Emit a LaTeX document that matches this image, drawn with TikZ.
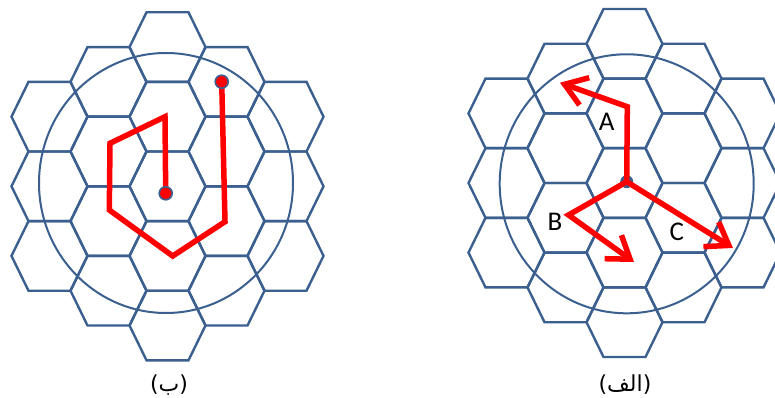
\documentclass[tikz,border=0pt]{standalone}
\usepackage{fontspec}
\setmainfont{Carlito}
\newfontfamily\arabicfont[Script=Arabic]{DejaVu Sans}
\newfontfamily\parenfont{DejaVu Sans}
\TeXXeTstate=1
\usetikzlibrary{arrows.meta}
\definecolor{hexblue}{HTML}{3B608F}
\definecolor{pathred}{HTML}{FF0000}
\tikzset{
  hexline/.style={draw=hexblue, line width=2.4pt, line join=miter},
  ringline/.style={draw=hexblue, line width=2pt},
  redpath/.style={draw=pathred, line width=5.5pt, line join=miter},
  redarrow/.style={draw=pathred, line width=5.5pt, line join=miter, -{Straight Barb[length=21pt,width=29pt]}},
  dotnode/.style={circle, fill=pathred, draw=hexblue, line width=1.6pt, minimum size=13pt, inner sep=0pt},
  letter/.style={font=\fontsize{27}{27}\selectfont, inner sep=0pt},
  caption/.style={font=\fontsize{22}{22}\selectfont, inner sep=0pt}
}
\newcommand{\hexgrid}[2]{%
  \foreach \k/\j in {0/-2,0/-1,0/0,0/1,0/2,-1/-1.5,-1/-0.5,-1/0.5,-1/1.5,1/-1.5,1/-0.5,1/0.5,1/1.5,-2/-1,-2/0,-2/1,2/-1,2/0,2/1}{
    \draw[hexline] ({#1+\k*59+38},{#2+\j*69.6}) -- ++(-17,34.8) -- ++(-42,0) -- ++(-17,-34.8) -- ++(17,-34.8) -- ++(42,0) -- cycle;
  }}
\begin{document}
\begin{tikzpicture}[x=1pt,y=-1pt]
\fill[white] (0,0) rectangle (775,398);
\useasboundingbox (0,0) rectangle (775,398);
% left grid
\hexgrid{167.5}{186.3}
\draw[ringline] (166,183) ellipse [x radius=127pt, y radius=130pt];
% right grid
\hexgrid{624.5}{183}
\draw[ringline] (626.7,183.8) ellipse [x radius=127pt, y radius=129.5pt];
% left path
\coordinate (L0) at (165.7,193.3);
\coordinate (L1) at (165,116.7);
\coordinate (L2) at (110,143.3);
\coordinate (L3) at (109.3,210);
\coordinate (L4) at (172.7,256);
\coordinate (L5) at (225,221.7);
\coordinate (L6) at (221.7,81.7);
\draw[redpath] (L0) -- (L1) -- (L2) -- (L3) -- (L4) -- (L5) -- (L6);
\node[dotnode] (dstart) at (L0) {};
\node[dotnode] (dend) at (L6) {};
% right arrows
\node[circle, fill=hexblue, minimum size=13pt, inner sep=0pt] (R0) at (626.7,181.7) {};
\coordinate (RA1) at (627.3,106.7);
\coordinate (RA2) at (560,82.7);
\coordinate (RB1) at (568.5,215);
\coordinate (RB2) at (634,262);
\coordinate (RC) at (733,248);
\draw[redarrow] (R0.center) -- (RA1) -- (RA2);
\draw[redarrow] (R0.center) -- (RB1) -- (RB2);
\draw[redarrow] (R0.center) -- (RC);
\node[letter] (la) at (606.7,121.7) {A};
\node[letter] (lb) at (555,221.7) {B};
\node[letter] (lc) at (676.7,231.7) {C};
% captions
\node[caption] (capb) at (169,385) {{\parenfont(}{\arabicfont\beginR ب\endR}{\parenfont)}};
\node[caption] (capa) at (625,385) {{\parenfont(}{\arabicfont\beginR الف\endR}{\parenfont)}};
\end{tikzpicture}
\end{document}
